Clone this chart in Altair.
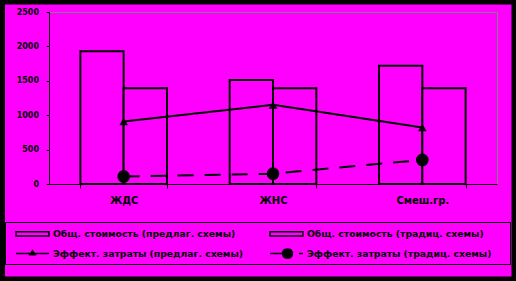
import altair as alt
import pandas as pd

categories = ["ЖДС", "ЖНС", "Смеш.гр."]
total_proposed = [1930, 1510, 1720]
total_traditional = [1390, 1390, 1390]
effect_proposed = [910, 1150, 820]
effect_traditional = [110, 150, 350]
series_names = [
    "Общ. стоимость (предлаг. схемы)",
    "Общ. стоимость (традиц. схемы)",
    "Эффект. затраты (предлаг. схемы)",
    "Эффект. затраты (традиц. схемы)",
]
y_ticks = [0, 500, 1000, 1500, 2000, 2500]

MAGENTA = "#ff00ff"
FONT = "DejaVu Sans"

bars_df = pd.DataFrame({
    "cat": categories * 2,
    "series": [series_names[0]] * 3 + [series_names[1]] * 3,
    "value": total_proposed + total_traditional,
})
prop_df = pd.DataFrame({"cat": categories, "series": series_names[2], "value": effect_proposed})
trad_df = pd.DataFrame({"cat": categories, "series": series_names[3], "value": effect_traditional})
legend_df = pd.DataFrame({"series": series_names})

x_axis = alt.Axis(
    tickBand="extent", labelAngle=0, domainColor="black", tickColor="black",
    tickSize=4, labelFont=FONT, labelFontSize=10, labelFontWeight="bold",
    labelColor="black", labelPadding=7, grid=False, title=None,
)
y_axis = alt.Axis(
    values=y_ticks, format="d", tickSize=3, domainColor="black", tickColor="black",
    labelFont=FONT, labelFontSize=8, labelFontWeight="bold", labelColor="black",
    labelPadding=7.5, grid=False, title=None,
)
x_scale = alt.Scale(domain=categories, paddingInner=0.42, paddingOuter=0.21)
y_scale = alt.Scale(domain=[0, 2500])

X = alt.X("cat:N", scale=x_scale, sort=categories, axis=x_axis)
Y = alt.Y("value:Q", scale=y_scale, axis=y_axis)

frame = alt.Chart(alt.Data(values=[{}])).mark_rect(
    fillOpacity=0, stroke="black", strokeWidth=9
).encode(x=alt.value(-48.5), x2=alt.value(467), y=alt.value(-12), y2=alt.value(269))

legend_box = alt.Chart(alt.Data(values=[{}])).mark_rect(
    fillOpacity=0, stroke="black", strokeWidth=1
).encode(x=alt.value(-43.5), x2=alt.value(461.5), y=alt.value(210.5), y2=alt.value(252.5))

bars = alt.Chart(bars_df).mark_bar(fill=MAGENTA, stroke="black", strokeWidth=2).encode(
    x=X, y=Y,
    xOffset=alt.XOffset("series:N", scale=alt.Scale(domain=series_names[:2], paddingInner=0, paddingOuter=0)),
)

line_prop = alt.Chart(prop_df).mark_line(color="black", strokeWidth=2).encode(x=X, y=Y)
pts_prop = alt.Chart(prop_df).mark_point(shape="triangle-up", filled=True, color="black", size=75, opacity=1).encode(x=X, y=Y)
line_trad = alt.Chart(trad_df).mark_line(color="black", strokeWidth=2, strokeDash=[16, 11]).encode(x=X, y=Y)
pts_trad = alt.Chart(trad_df).mark_point(shape="circle", filled=True, color="black", size=160, opacity=1).encode(x=X, y=Y)

paths = [
    "M-1,-0.13H1V0.13H-1Z",
    "M-1,-0.13H1V0.13H-1Z",
    "M-1,0H1M0,-0.17L0.16,0.08H-0.16Z",
    "M-1,0H-0.2M-0.24,0A0.3,0.3 0 1,0 0.36,0A0.3,0.3 0 1,0 -0.24,0M0.76,0H1",
]
leg = alt.Legend(
    orient="none", legendX=-34, legendY=216.5, columns=2, direction="horizontal", title=None,
    symbolSize=1089, symbolStrokeWidth=1.5, symbolStrokeColor="black", symbolOpacity=1,
    labelFont=FONT, labelFontSize=9.25, labelFontWeight="bold", labelColor="black",
    labelOffset=3, labelLimit=400, columnPadding=25, rowPadding=9, gridAlign="all",
    clipHeight=10,
)
legend_layer = alt.Chart(legend_df).mark_point(filled=False, opacity=0, strokeWidth=1.5).encode(
    shape=alt.Shape("series:N", scale=alt.Scale(domain=series_names, range=paths), legend=leg, sort=series_names),
    fill=alt.Fill("series:N", scale=alt.Scale(domain=series_names, range=[MAGENTA, MAGENTA, "black", "black"]), legend=leg, sort=series_names),
    stroke=alt.Stroke("series:N", scale=alt.Scale(domain=series_names, range=["black"] * 4), legend=leg, sort=series_names),
)

chart = alt.layer(frame, legend_box, bars, line_prop, line_trad, pts_prop, pts_trad, legend_layer).properties(
    width=448, height=172,
    autosize=alt.AutoSizeParams(type="none"),
    padding={"left": 49, "top": 12, "right": 19, "bottom": 97},
    background=MAGENTA,
).configure_view(stroke="#808080", strokeWidth=1)

chart.save("out.html", embed_options={"renderer": "svg", "actions": False})
